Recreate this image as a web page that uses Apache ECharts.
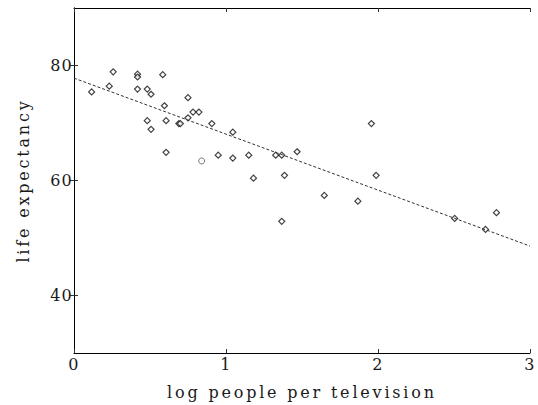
<!DOCTYPE html>
<html>
<head>
<meta charset="utf-8">
<script src="https://cdn.jsdelivr.net/npm/echarts@6/dist/echarts.min.js"></script>
<style>
html,body{margin:0;padding:0;background:#fff;}
#c{width:538px;height:405px;}
#c svg text{letter-spacing:2.8px;}
#c svg text.num{letter-spacing:1.2px;}
</style>
</head>
<body>
<div id="c"></div>
<script>
// log people per television (x) vs life expectancy (y)
const logTV = [0.116,0.232,0.258,0.418,0.418,0.418,0.482,0.507,0.584,0.595,0.750,0.783,0.822,0.750,0.482,0.507,0.606,0.690,0.700,0.907,1.045,0.606,0.949,1.045,1.150,1.327,1.367,1.468,1.181,1.385,1.367,1.647,1.868,1.957,1.988,2.505,2.708,2.780];
const lifeExp = [75.4,76.4,78.9,78.5,78.0,75.9,75.9,75.0,78.4,73.0,74.4,71.9,71.9,70.9,70.4,68.9,70.4,69.9,69.9,69.9,68.4,64.9,64.4,63.9,64.4,64.4,64.4,65.0,60.4,60.9,52.9,57.4,56.4,69.9,60.9,53.4,51.5,54.4];
const circleX = [0.840];
const circleY = [63.4];
const fitX = [0, 3];
const fitY = [77.8, 48.6];
const xTicks = [0,1,2,3];
const yTicks = [40,60,80];

const pts = logTV.map((x,i)=>[x, lifeExp[i]]);
const circ = circleX.map((x,i)=>[x, circleY[i]]);
const fit = fitX.map((x,i)=>[x, fitY[i]]);

const font = 'DejaVu Serif';
const txt = '#1a1a1a';
const axLine = {show:true, lineStyle:{color:'#000', width:1}};
const xTick = {show:true, inside:true, length:4, lineStyle:{color:'#333', width:1}, customValues:xTicks};
const yTick = {show:true, inside:true, length:4, lineStyle:{color:'#333', width:1}, customValues:yTicks};

const chart = echarts.init(document.getElementById('c'), null, {renderer:'svg'});
chart.setOption({
  animation:false,
  backgroundColor:'#fff',
  grid:{left:74, right:6, top:8, bottom:52, containLabel:false},
  xAxis:[{
    type:'value', min:0, max:3, interval:1, position:'bottom',
    axisLine:axLine, axisTick:xTick, splitLine:{show:false},
    axisLabel:{color:txt, fontFamily:font, fontSize:16, margin:3, customValues:xTicks},
    name:'log people per television', nameLocation:'middle', nameGap:31,
    nameTextStyle:{color:txt, fontFamily:font, fontSize:16}
  },{
    type:'value', min:0, max:3, interval:1, position:'top',
    axisLine:axLine, axisTick:xTick, splitLine:{show:false},
    axisLabel:{show:false}
  }],
  yAxis:[{
    type:'value', min:30, max:90, interval:10, position:'left',
    axisLine:axLine, splitLine:{show:false}, axisTick:yTick,
    axisLabel:{color:txt, fontFamily:font, fontSize:16, margin:1, customValues:yTicks},
    name:'life expectancy', nameLocation:'middle', nameGap:43,
    nameTextStyle:{color:txt, fontFamily:font, fontSize:16}
  },{
    type:'value', min:30, max:90, interval:10, position:'right',
    axisLine:axLine, splitLine:{show:false}, axisTick:yTick,
    axisLabel:{show:false}
  }],
  series:[{
    type:'line', data:fit, symbol:'none', silent:true,
    lineStyle:{color:'#333', width:1, type:[3,2]}
  },{
    type:'scatter', data:pts, symbol:'diamond', symbolSize:6,
    itemStyle:{color:'#fff', borderColor:'#111', borderWidth:1.2}
  },{
    type:'scatter', data:circ, symbol:'circle', symbolSize:6,
    itemStyle:{color:'#fff', borderColor:'#555', borderWidth:1}
  }]
});
document.querySelectorAll('#c svg text').forEach(t=>{
  if (/^\d+$/.test(t.textContent.trim())) t.classList.add('num');
});
</script>
</body>
</html>
